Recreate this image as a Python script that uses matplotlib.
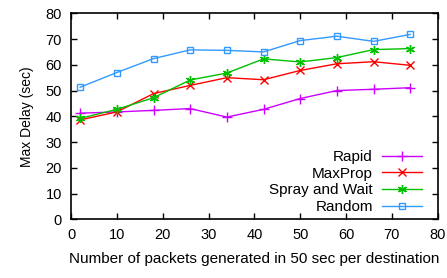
import matplotlib
matplotlib.use("Agg")
import matplotlib.pyplot as plt

x = [2, 10, 18, 26, 34, 42, 50, 58, 66, 74]
rapid = [41.2, 41.7, 42.3, 43.0, 39.7, 42.7, 46.9, 50.0, 50.5, 51.1]
maxprop = [38.6, 41.7, 48.8, 52.0, 55.0, 54.2, 57.8, 60.4, 61.2, 59.8]
spray = [39.2, 42.7, 47.2, 54.1, 56.8, 62.3, 61.1, 62.8, 65.9, 66.3]
random_ = [51.3, 57.0, 62.4, 65.8, 65.6, 65.0, 69.4, 71.1, 69.1, 71.8]
labels = ["Rapid", "MaxProp", "Spray and Wait", "Random"]
colors = ["#cc00ff", "#ff0000", "#00c000", "#3399ff"]

plt.rcParams['font.family'] = ['Liberation Sans', 'DejaVu Sans']
plt.rcParams['font.size'] = 10

fig = plt.figure(figsize=(4.47, 2.78), dpi=100)
ax = fig.add_axes([71/447, 1-219.3/278, (437.7-71)/447, (219.3-13.3)/278])

ax.plot(x, rapid, color=colors[0], marker='+', ms=6.5, lw=1, label=labels[0])
ax.plot(x, maxprop, color=colors[1], marker='x', ms=5.5, lw=1, label=labels[1])
ax.plot(x, spray, color=colors[2], marker=(6, 2, 0), ms=6.5, lw=1, label=labels[2])
ax.plot(x, random_, color=colors[3], marker='s', ms=5, mfc='none', lw=1, label=labels[3])

ax.set_xlim(0, 80)
ax.set_ylim(0, 80)
ax.set_xticks(range(0, 81, 10))
ax.set_yticks(range(0, 81, 10))
ax.tick_params(direction='in', top=True, right=True, length=4, width=1, labelsize=10.5, pad=6.5)
for s in ax.spines.values():
    s.set_linewidth(1.2)
ax.set_xlabel("Number of packets generated in 50 sec per destination", fontsize=11, labelpad=7)
ax.set_ylabel("Max Delay (sec)", fontsize=10, labelpad=8)
ax.legend(loc='lower right', bbox_to_anchor=(0.973, -0.005), markerfirst=False, frameon=False,
          handlelength=2.6, handletextpad=0.6, labelspacing=0.18, borderaxespad=0, fontsize=11)

fig.savefig("out.png", dpi=100)
